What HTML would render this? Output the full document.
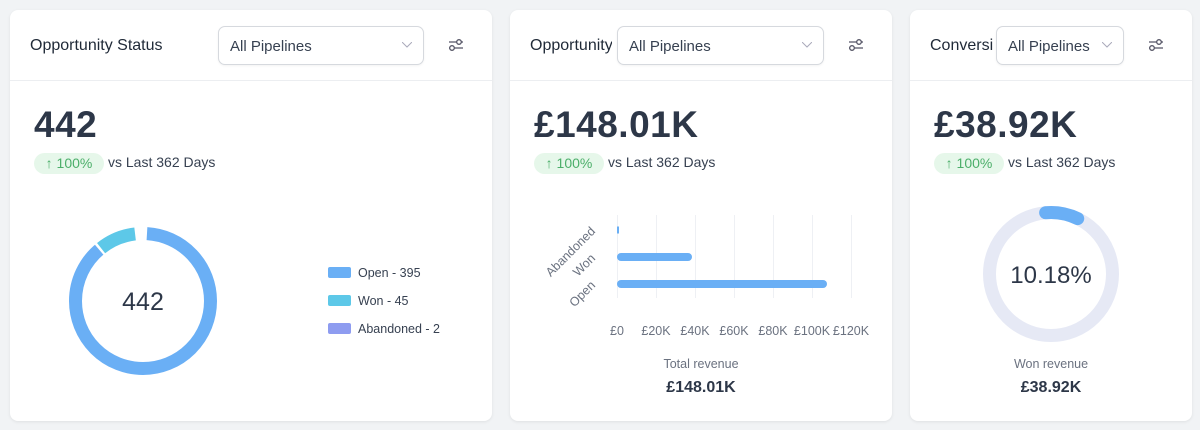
<!DOCTYPE html>
<html><head><style>
*{box-sizing:border-box;margin:0;padding:0}
body{width:1200px;height:430px;background:#f1f3f5;font-family:"Liberation Sans",sans-serif;position:relative;overflow:hidden;color:#1f2937}
.card{position:absolute;top:10px;height:411px;background:#fff;border-radius:8px;box-shadow:0 1px 3px rgba(0,0,0,.08)}
.hdr{height:71px;border-bottom:1px solid #eceef1;position:relative}
.title{position:absolute;left:20px;top:27px;font-size:16px;color:#1f2937;white-space:nowrap;overflow:hidden}
.sel{position:absolute;top:16px;height:39px;border:1px solid #d6d9de;border-radius:7px;background:#fff;font-size:15px;color:#374151;padding:11px 11px;box-shadow:0 1px 2px rgba(0,0,0,.05)}
.sel svg{position:absolute;right:11px;top:15px}
.ic{position:absolute;top:28px}
.big{position:absolute;left:24px;top:94px;font-size:37px;font-weight:bold;color:#2d3748;letter-spacing:.5px}
.pill{position:absolute;left:24px;top:143px;width:70px;height:21px;border-radius:11px;background:#e6f7ea;color:#4caf6a;font-size:14px;line-height:21px;text-align:center}
.vs{position:absolute;left:98px;top:144px;font-size:14px;color:#374151}
</style></head><body>

<div class="card" style="left:10px;width:482px">
 <div class="hdr">
  <div class="title" style="width:160px">Opportunity Status</div>
  <div class="sel" style="left:208px;width:206px">All Pipelines<svg width="10" height="6"><path d="M0 0L5 5L10 0" fill="none" stroke="#aab" stroke-width="1"/></svg></div>
  <svg class="ic" style="left:438px" width="16" height="14"><circle cx="11" cy="4" r="2.3" fill="none" stroke="#556" stroke-width="1.3"/><circle cx="4" cy="10" r="2.3" fill="none" stroke="#556" stroke-width="1.3"/><path d="M1 4H8.5M13.5 4H15M1 10H1.5M6.5 10H15" stroke="#556" stroke-width="1.3"/></svg>
 </div>
 <div class="big">442</div>
 <div class="pill">↑ 100%</div><div class="vs">vs Last 362 Days</div>
</div>

<div class="card" style="left:510px;width:382px">
 <div class="hdr">
  <div class="title" style="width:82px">Opportunity Value</div>
  <div class="sel" style="left:107px;width:207px">All Pipelines<svg width="10" height="6"><path d="M0 0L5 5L10 0" fill="none" stroke="#aab" stroke-width="1"/></svg></div>
  <svg class="ic" style="left:338px" width="16" height="14"><circle cx="11" cy="4" r="2.3" fill="none" stroke="#556" stroke-width="1.3"/><circle cx="4" cy="10" r="2.3" fill="none" stroke="#556" stroke-width="1.3"/><path d="M1 4H8.5M13.5 4H15M1 10H1.5M6.5 10H15" stroke="#556" stroke-width="1.3"/></svg>
 </div>
 <div class="big">£148.01K</div>
 <div class="pill">↑ 100%</div><div class="vs">vs Last 362 Days</div>
</div>

<div class="card" style="left:910px;width:282px">
 <div class="hdr">
  <div class="title" style="width:63px">Conversion</div>
  <div class="sel" style="left:86px;width:128px">All Pipelines<svg width="10" height="6"><path d="M0 0L5 5L10 0" fill="none" stroke="#aab" stroke-width="1"/></svg></div>
  <svg class="ic" style="left:238px" width="16" height="14"><circle cx="11" cy="4" r="2.3" fill="none" stroke="#556" stroke-width="1.3"/><circle cx="4" cy="10" r="2.3" fill="none" stroke="#556" stroke-width="1.3"/><path d="M1 4H8.5M13.5 4H15M1 10H1.5M6.5 10H15" stroke="#556" stroke-width="1.3"/></svg>
 </div>
 <div class="big">£38.92K</div>
 <div class="pill">↑ 100%</div><div class="vs">vs Last 362 Days</div>
</div>

<svg style="position:absolute;left:0;top:0" width="1200" height="430" font-family="Liberation Sans, sans-serif">
 <g transform="translate(143,301)">
  <circle r="67.5" fill="none" stroke="#6aaff5" stroke-width="13" stroke-dasharray="0 4 374 1000" transform="rotate(-90)"/>
  <circle r="67.5" fill="none" stroke="#5dc8e8" stroke-width="13" stroke-dasharray="38 1000" transform="rotate(-129)"/>
  <circle r="67.5" fill="none" stroke="#fff" stroke-width="15" stroke-dasharray="2.5 1000" transform="rotate(-130.5)"/>
  <circle r="67.5" fill="none" stroke="#fff" stroke-width="15" stroke-dasharray="3 1000" transform="rotate(-92)"/>
  <text y="9" text-anchor="middle" font-size="25" fill="#2d3748">442</text>
 </g>
 <rect x="328" y="267" width="23" height="11" rx="2" fill="#6aaff5"/><text x="358" y="277" font-size="12.5" fill="#374151">Open - 395</text>
 <rect x="328" y="295" width="23" height="11" rx="2" fill="#5dc8e8"/><text x="358" y="305" font-size="12.5" fill="#374151">Won - 45</text>
 <rect x="328" y="323" width="23" height="11" rx="2" fill="#8e9cf0"/><text x="358" y="333" font-size="12.5" fill="#374151">Abandoned - 2</text>

 <g stroke="#eef0f4" stroke-width="1">
  <line x1="617.5" y1="215" x2="617.5" y2="298"/><line x1="656.5" y1="215" x2="656.5" y2="298"/><line x1="695.5" y1="215" x2="695.5" y2="298"/><line x1="734.5" y1="215" x2="734.5" y2="298"/><line x1="773.5" y1="215" x2="773.5" y2="298"/><line x1="812.5" y1="215" x2="812.5" y2="298"/><line x1="851.5" y1="215" x2="851.5" y2="298"/>
 </g>
 <g stroke="#6aaff5" stroke-width="8" stroke-linecap="round">
  <line x1="617" y1="230" x2="619" y2="230" stroke-width="7" stroke-linecap="butt"/>
  <line x1="621" y1="257" x2="688" y2="257"/>
  <line x1="621" y1="284" x2="823" y2="284"/>
 </g>
 <g font-size="12.5" fill="#6b7280">
  <text transform="translate(596,232) rotate(-45)" text-anchor="end">Abandoned</text>
  <text transform="translate(596,259) rotate(-45)" text-anchor="end">Won</text>
  <text transform="translate(596,286) rotate(-45)" text-anchor="end">Open</text>
  <g text-anchor="middle"><text x="617" y="335">£0</text><text x="656" y="335">£20K</text><text x="695" y="335">£40K</text><text x="734" y="335">£60K</text><text x="773" y="335">£80K</text><text x="812" y="335">£100K</text><text x="851" y="335">£120K</text></g>
 </g>
 <text x="701" y="368" text-anchor="middle" font-size="12.5" fill="#6b7280">Total revenue</text>
 <text x="701" y="392" text-anchor="middle" font-size="16" font-weight="bold" fill="#2d3748">£148.01K</text>

 <g transform="translate(1051,274)">
  <circle r="61.5" fill="none" stroke="#e6e9f5" stroke-width="13"/>
  <circle r="61.5" fill="none" stroke="#6aaff5" stroke-width="13" stroke-linecap="round" stroke-dasharray="33 1000" transform="rotate(-95)"/>
  <text y="9" text-anchor="middle" font-size="24" fill="#2d3748">10.18%</text>
 </g>
 <text x="1051" y="368" text-anchor="middle" font-size="12.5" fill="#6b7280">Won revenue</text>
 <text x="1051" y="392" text-anchor="middle" font-size="16" font-weight="bold" fill="#2d3748">£38.92K</text>
</svg>
</body></html>
